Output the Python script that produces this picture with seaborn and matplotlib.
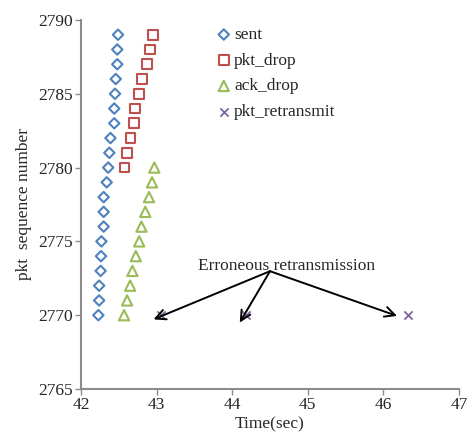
import matplotlib
matplotlib.use("Agg")
import matplotlib.pyplot as plt
import seaborn as sns
import pandas as pd

# Sequence numbers and send/drop times (seconds)
sent_seq = list(range(2770, 2790))
sent_time = [42.23, 42.24, 42.24, 42.26, 42.265, 42.27, 42.30, 42.30, 42.30, 42.34,
             42.36, 42.375, 42.39, 42.44, 42.44, 42.45, 42.46, 42.48, 42.48, 42.49]

pkt_drop_seq = list(range(2780, 2790))
pkt_drop_time = [42.575, 42.61, 42.655, 42.70, 42.71, 42.77, 42.81, 42.875, 42.91, 42.95]

ack_drop_seq = list(range(2770, 2781))
ack_drop_time = [42.57, 42.61, 42.65, 42.68, 42.725, 42.77, 42.80, 42.85, 42.90, 42.94, 42.97]

retx_seq = [2770, 2770, 2770]
retx_time = [43.06, 44.18, 46.32]

series_names = ["sent", "pkt_drop", "ack_drop", "pkt_retransmit"]
series_colors = ["#4F81BD", "#C0504D", "#9BBB59", "#8064A2"]
series_markers = ["D", "s", "^", "x"]
series_sizes = [28, 50, 55, 35]

frames = {
    "sent": (sent_time, sent_seq),
    "pkt_drop": (pkt_drop_time, pkt_drop_seq),
    "ack_drop": (ack_drop_time, ack_drop_seq),
    "pkt_retransmit": (retx_time, retx_seq),
}

sns.set_style("white")
plt.rcParams["font.family"] = ["Liberation Serif", "DejaVu Serif"]
plt.rcParams["font.size"] = 12.5

fig = plt.figure(figsize=(4.7, 4.44), dpi=100)
ax = fig.add_axes([0.1723, 0.1239, 0.8043, 0.8311])

for name, col, mk, sz in zip(series_names, series_colors, series_markers, series_sizes):
    t, s = frames[name]
    df = pd.DataFrame({"time": t, "seq": s})
    if mk == "x":
        sns.scatterplot(data=df, x="time", y="seq", ax=ax, marker=mk, s=sz,
                        color=col, linewidth=1.3, label=name, zorder=3)
    else:
        sns.scatterplot(data=df, x="time", y="seq", ax=ax, marker=mk, s=sz,
                        facecolor="none", edgecolor=col, linewidth=1.5,
                        label=name, zorder=3)

ax.set_xlim(42, 47)
ax.set_ylim(2765, 2790)
ax.set_xticks(range(42, 48))
ax.set_yticks(range(2765, 2791, 5))

ax.set_xlabel("Time(sec)", fontsize=12.5, labelpad=2)
ax.set_ylabel("pkt  sequence number", fontsize=12.5, labelpad=4)

for side in ["top", "right"]:
    ax.spines[side].set_visible(False)
for side in ["left", "bottom"]:
    ax.spines[side].set_color("#8C8C8C")
    ax.spines[side].set_linewidth(1.5)
ax.tick_params(axis="both", which="major", direction="out", length=4, width=1,
               color="#8C8C8C", labelsize=12.5, left=True, bottom=True, pad=2)

# Annotation with three arrows
ax.text(44.72, 2773.3, "Erroneous retransmission", ha="center", va="center",
        fontsize=12.5)
origin = (44.50, 2772.98)
for tip in [(42.96, 2769.72), (44.10, 2769.50), (46.18, 2769.95)]:
    ax.annotate("", xy=tip, xytext=origin,
                arrowprops=dict(arrowstyle="->", color="black", lw=1.4,
                                mutation_scale=18, shrinkA=0, shrinkB=0))

leg = ax.legend(loc="upper left", bbox_to_anchor=(0.341, 1.0), frameon=False,
                handletextpad=0.2, labelspacing=0.55, borderaxespad=0,
                handlelength=0.8, fontsize=12.5)

fig.savefig("out.png", dpi=100)
